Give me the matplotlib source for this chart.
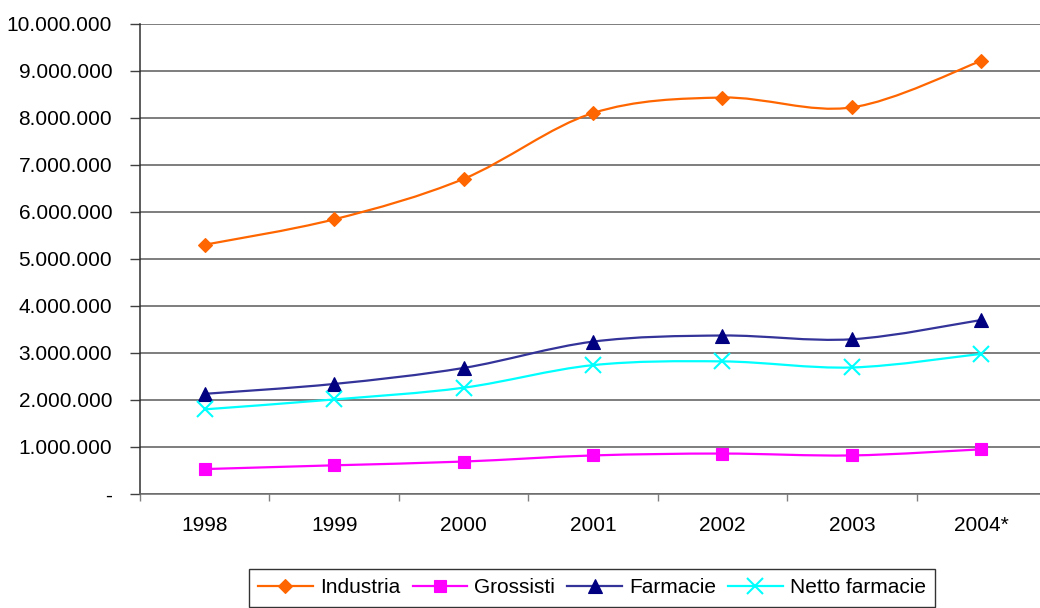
import matplotlib
matplotlib.use('Agg')
import matplotlib.pyplot as plt
import numpy as np
from matplotlib.path import Path
from matplotlib.patches import PathPatch
from matplotlib.lines import Line2D
from matplotlib.ticker import FuncFormatter, MultipleLocator

plt.rcParams['font.family'] = ['Liberation Sans', 'DejaVu Sans']
plt.rcParams['font.size'] = 15

anni = ['1998', '1999', '2000', '2001', '2002', '2003', '2004*']

industria = [5300000, 5840000, 6700000, 8100000, 8430000, 8220000, 9210000]
grossisti = [530000, 610000, 690000, 820000, 860000, 820000, 950000]
farmacie = [2130000, 2340000, 2680000, 3240000, 3370000, 3290000, 3700000]
netto_farmacie = [1800000, 2010000, 2260000, 2740000, 2820000, 2690000, 2980000]

serie = [
    # nome, valori, colore linea, marker, colore marker, dimensione marker
    ('Industria', industria, '#FF6600', 'D', '#FF6600', 7.5),
    ('Grossisti', grossisti, '#FF00FF', 's', '#FF00FF', 8.5),
    ('Farmacie', farmacie, '#333399', '^', '#000080', 9.5),
    ('Netto farmacie', netto_farmacie, '#00FFFF', 'x', '#00FFFF', 11),
]


def curva_smussata(x, y):
    # linea smussata stile Excel: bezier cubiche con tangenti Catmull-Rom
    pts = np.column_stack([x, y]).astype(float)
    n = len(pts)
    verts = [pts[0]]
    codes = [Path.MOVETO]
    for i in range(n - 1):
        p0 = pts[i - 1] if i > 0 else pts[i]
        p1 = pts[i]
        p2 = pts[i + 1]
        p3 = pts[i + 2] if i + 2 < n else pts[i + 1]
        c1 = p1 + (p2 - p0) / 6.0
        c2 = p2 - (p3 - p1) / 6.0
        verts += [c1, c2, p2]
        codes += [Path.CURVE4] * 3
    return Path(verts, codes)


fig = plt.figure(figsize=(10.4, 6.08), dpi=100)
ax = fig.add_axes([140 / 1040, 1 - 494 / 608, 906 / 1040, (494 - 23.7) / 608])

x = np.arange(len(anni))
handles = []
for nome, valori, col, mk, mcol, ms in serie:
    ax.add_patch(PathPatch(curva_smussata(x, valori), fill=False,
                           edgecolor=col, lw=1.6, zorder=3))
    if mk == 'x':
        ax.plot(x, valori, ls='none', marker=mk, ms=ms, mec=mcol, mew=1.5, zorder=4)
    else:
        ax.plot(x, valori, ls='none', marker=mk, ms=ms, mfc=mcol, mec=mcol,
                mew=0.8, zorder=4)
    handles.append(Line2D([], [], color=col, lw=1.6, marker=mk, ms=ms,
                          mfc=mcol, mec=mcol, mew=1.5 if mk == 'x' else 0.8,
                          label=nome))

ax.set_xlim(-0.5, len(anni) - 0.5)
ax.set_ylim(0, 10000000)
ax.yaxis.set_major_locator(MultipleLocator(1000000))
ax.yaxis.set_major_formatter(FuncFormatter(
    lambda v, p: '-' if v == 0 else f'{v:,.0f}'.replace(',', '.')))
ax.set_xticks(x)
ax.set_xticklabels(anni)
ax.set_xticks(np.arange(len(anni) + 1) - 0.5, minor=True)
ax.tick_params(axis='x', which='major', length=0, pad=16)
ax.tick_params(axis='x', which='minor', length=5, width=1, color='#808080', direction='out')
ax.tick_params(axis='y', length=7, width=1, direction='out', pad=13, color='#404040')

ax.grid(axis='y', color='#5a5a5a', lw=1.1)
ax.set_axisbelow(True)
for s in ['top', 'right']:
    ax.spines[s].set_visible(False)
ax.spines['left'].set_color('#303030')
ax.spines['left'].set_linewidth(1.1)
ax.spines['bottom'].set_color('#6a6a6a')
ax.spines['bottom'].set_linewidth(1.1)

leg = fig.legend(handles=handles, loc='upper left',
                 bbox_to_anchor=(249 / 1040, 1 - 569 / 608), ncol=4,
                 frameon=True, fancybox=False, shadow=False,
                 handlelength=2.6, handletextpad=0.35, columnspacing=0.6,
                 borderpad=0.45, borderaxespad=0)
leg.get_frame().set_edgecolor('black')
leg.get_frame().set_linewidth(1.0)

fig.savefig('out.png', dpi=100)
